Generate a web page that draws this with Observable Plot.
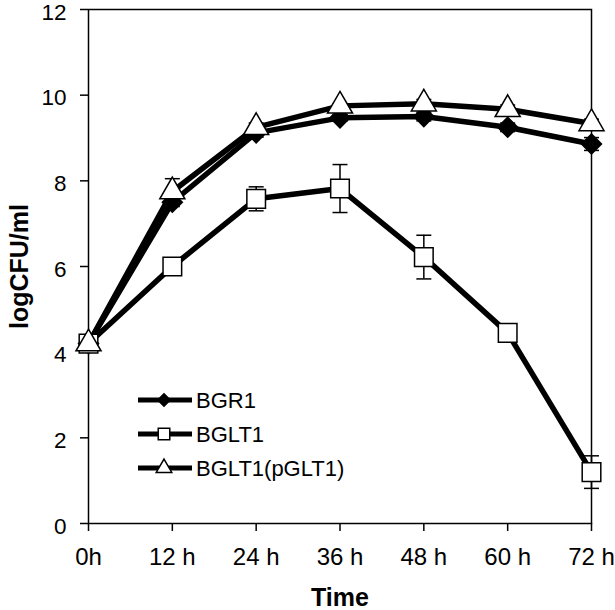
<!DOCTYPE html>
<html><head><meta charset="utf-8">
<script src="https://cdn.jsdelivr.net/npm/d3@7"></script>
<script src="https://cdn.jsdelivr.net/npm/@observablehq/plot@0.6"></script>
<style>body{margin:0;background:#fff;font-family:"Liberation Sans",Arial,sans-serif}</style>
</head><body><div id="chart"></div>
<script>
const hours = [0, 12, 24, 36, 48, 60, 72];
const hourLabels = ["0h", "12 h", "24 h", "36 h", "48 h", "60 h", "72 h"];
const yTicks = [0, 2, 4, 6, 8, 10, 12];
const seriesNames = ["BGR1", "BGLT1", "BGLT1(pGLT1)"];
const bgr1 = [4.2, 7.5, 9.12, 9.47, 9.5, 9.25, 8.86];
const bgr1Err = [0.1, 0.1, 0.1, 0.08, 0.1, 0.1, 0.15];
const bglt1 = [4.2, 6.0, 7.58, 7.82, 6.22, 4.45, 1.2];
const bglt1Err = [0.1, 0, 0.28, 0.56, 0.51, 0.1, 0.38];
const pglt1 = [4.2, 7.75, 9.25, 9.75, 9.8, 9.67, 9.34];
const pglt1Err = [0.1, 0.3, 0.1, 0.05, 0.1, 0.1, 0.1];

const seriesValues = [bgr1, bglt1, pglt1];
const seriesErrs = [bgr1Err, bglt1Err, pglt1Err];
const rows = [];
seriesNames.forEach((s, i) => hours.forEach((h, j) => rows.push({series: s, x: h, y: seriesValues[i][j], err: seriesErrs[i][j]})));
const errRows = rows.filter(d => d.err > 0);

const cap = {draw(ctx, size) { const w = Math.sqrt(size / Math.PI); ctx.moveTo(-w, 0); ctx.lineTo(w, 0); }};
const markStyles = {
  "BGR1": {symbol: "diamond2", r: 9, fill: "black"},
  "BGLT1": {symbol: "square", r: 10.5, fill: "white"},
  "BGLT1(pGLT1)": {symbol: "triangle", r: 9.3, fill: "white"}
};
const F = "Liberation Sans, Arial, sans-serif";

const plot = Plot.plot({
  width: 615, height: 610,
  marginLeft: 88, marginRight: 24, marginTop: 9, marginBottom: 87,
  style: {fontFamily: F, background: "white", color: "black"},
  x: {domain: [0, 72]},
  y: {domain: [0, 12]},
  marks: [
    Plot.axisX({ticks: hours, tickFormat: (d) => hourLabels[hours.indexOf(d)], tickSize: 8, tickPadding: 16, fontSize: 24,
      strokeWidth: 1.5, label: "Time", labelAnchor: "center", labelArrow: "none", labelOffset: 82}),
    Plot.axisY({ticks: yTicks, tickSize: 8, strokeWidth: 1.5, text: null,
      label: "logCFU/ml", labelAnchor: "center", labelArrow: "none", labelOffset: 78}),
    Plot.axisY({ticks: yTicks, tickSize: 0, tickPadding: 22, fontSize: 22.5, dy: 3, label: null}),
    Plot.frame({stroke: "black", strokeWidth: 1.5}),
    Plot.line(rows, {x: "x", y: "y", z: "series", stroke: "black", strokeWidth: 5.5}),
    Plot.ruleX(errRows, {x: "x", y1: d => d.y - d.err, y2: d => d.y + d.err, stroke: "black", strokeWidth: 1.5}),
    Plot.dot(errRows, {x: "x", y: d => d.y + d.err, symbol: cap, r: 7.5, fill: "none", stroke: "black", strokeWidth: 1.5}),
    Plot.dot(errRows, {x: "x", y: d => d.y - d.err, symbol: cap, r: 7.5, fill: "none", stroke: "black", strokeWidth: 1.5}),
    ...seriesNames.map(s => Plot.dot(rows.filter(d => d.series === s), {x: "x", y: "y", ...markStyles[s], stroke: "black", strokeWidth: 1.5}))
  ]
});
document.getElementById("chart").appendChild(plot);

// Legend (inside the plot area, as in the reference)
const svg = d3.select(plot);
const lg = svg.append("g").attr("transform", "translate(138,400)").attr("text-anchor", "start");
const symGen = {
  "diamond2": d3.symbolDiamond2, "square": d3.symbolSquare, "triangle": d3.symbolTriangle
};
seriesNames.forEach((s, i) => {
  const g = lg.append("g").attr("transform", `translate(0,${i * 34})`);
  g.append("line").attr("x1", 0).attr("x2", 54).attr("y1", 0).attr("y2", 0).attr("stroke", "black").attr("stroke-width", 5);
  const st = markStyles[s];
  g.append("path").attr("transform", "translate(26,0)")
    .attr("d", d3.symbol(symGen[st.symbol], Math.PI * (st.r * 0.62) ** 2)())
    .attr("fill", st.fill).attr("stroke", "black").attr("stroke-width", 1.5);
  g.append("text").attr("x", 58).attr("y", 0).attr("dy", "0.36em").attr("text-anchor", "start")
    .attr("font-size", 22).attr("font-family", F).attr("fill", "black").text(s);
});
// bold axis titles
svg.selectAll("g[aria-label='x-axis label'] text, g[aria-label='y-axis label'] text").attr("font-weight", "bold").attr("font-size", 25);
</script></body></html>
